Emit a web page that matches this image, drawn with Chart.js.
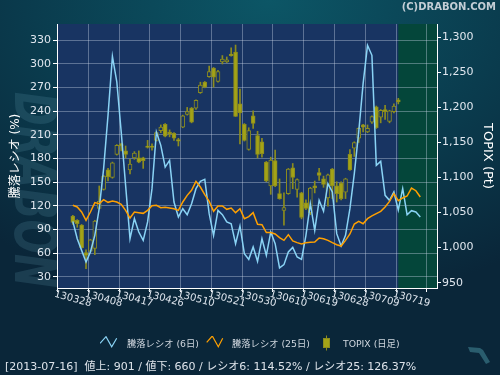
<!DOCTYPE html>
<html>
<head>
<meta charset="utf-8">
<script src="https://cdn.jsdelivr.net/npm/chart.js@4.4.1/dist/chart.umd.min.js"></script>
<style>
  html, body { margin: 0; padding: 0; }
  #wrap {
    position: relative; width: 500px; height: 375px; overflow: hidden;
    background: radial-gradient(ellipse 430px 310px at 270px 0px, #0c5666 0%, #0a3c4e 55%, #0a2639 100%);
    font-family: "DejaVu Sans", "Noto Sans CJK JP", sans-serif;
  }
  #mark {
    position: absolute; left: 35px; top: 190px; white-space: nowrap;
    font: italic bold 58px/1 "DejaVu Sans", sans-serif; color: rgba(95, 155, 175, 0.2);
    transform: translate(-50%, -50%) rotate(90deg) scaleX(0.7);
  }
  canvas { position: absolute; left: 0; top: 0; }
  .txt { position: absolute; white-space: pre; }
  #copy { right: 4px; top: 1px; font-weight: bold; font-size: 10px; line-height: 12px; color: #c3ced6; }
  .lt { top: 337px; font-size: 9.3px; line-height: 13px; color: #cfd6de; }
  .ic { position: absolute; }
  #status { left: 5px; top: 359px; font-size: 11px; line-height: 15px; color: #dde3ea; }
</style>
</head>
<body>
<div id="wrap">
  <div id="mark">DRABON</div>
  <canvas id="chart" width="500" height="375"></canvas>
  <div id="copy" class="txt">(C)DRABON.COM</div>

  <svg class="ic" style="left:100px;top:336px" width="18" height="12">
    <polyline points="0,7.3 6,0.7 11.7,10.7 16.7,2.3" fill="none" stroke="#8ad3f5" stroke-width="1.2"/>
  </svg>
  <div class="txt lt" style="left:127px">騰落レシオ (6日)</div>
  <svg class="ic" style="left:206px;top:336px" width="18" height="12">
    <polyline points="0.7,6.3 6.3,0 12.3,10.7 16.7,2.3" fill="none" stroke="#ffa000" stroke-width="1.2"/>
  </svg>
  <div class="txt lt" style="left:232px">騰落レシオ (25日)</div>
  <svg class="ic" style="left:322px;top:335px" width="9" height="16">
    <line x1="4.5" y1="0.5" x2="4.5" y2="15.5" stroke="#8c8c1e"/>
    <rect x="1.5" y="3.5" width="6" height="9" fill="#a3a317" stroke="#8c8c1e"/>
  </svg>
  <div class="txt lt" style="left:343px">TOPIX (日足)</div>

  <div id="status" class="txt">[2013-07-16]  値上: 901 / 値下: 660 / レシオ6: 114.52% / レシオ25: 126.37%</div>

  <svg class="ic" style="left:466px;top:345px" width="26" height="20">
    <polygon points="2,2 14,3 17,5 24,17 20,19 13,8 4,7" fill="#2a5d6e"/>
  </svg>
</div>

<script>
  // x = trading day index from 2013-03-28; ticks every 7 trading days
  const xTickLabels = ["130328", "130408", "130417", "130426", "130510", "130521",
    "130530", "130610", "130619", "130628", "130709", "130719"];
  const xTickStep = 7;
  const ratioTicks = [30, 60, 90, 120, 150, 180, 210, 240, 270, 300, 330];
  const topixTicks = [950, 1000, 1050, 1100, 1150, 1200, 1250, 1300];

  // TOPIX daily candles (Pt)
  const topixOpen = [1045, 1039, 1032, 993, 995, 999, 1056, 1083, 1111, 1100,
    1133, 1148, 1138, 1111, 1128, 1128, 1128, 1145, 1145, 1153,
    1167, 1176, 1165, 1163, 1154, 1172, 1190, 1199, 1199, 1221,
    1236, 1244, 1256, 1237, 1265, 1265, 1276, 1279, 1205, 1176,
    1140, 1188, 1160, 1151, 1122, 1088, 1124, 1077, 1053, 1077,
    1114, 1083, 1078, 1064, 1050, 1088, 1107, 1098, 1071, 1112,
    1088, 1092, 1079, 1133, 1142, 1156, 1175, 1165, 1179, 1201,
    1186, 1197, 1180, 1194, 1211];
  const topixHigh = [1046, 1040, 1033, 997, 1012, 1039, 1088, 1103, 1113, 1122,
    1147, 1149, 1145, 1126, 1137, 1138, 1129, 1153, 1148, 1165,
    1175, 1177, 1168, 1164, 1156, 1189, 1200, 1200, 1211, 1236,
    1237, 1259, 1257, 1253, 1274, 1272, 1285, 1289, 1226, 1177,
    1171, 1195, 1166, 1156, 1123, 1129, 1139, 1098, 1078, 1113,
    1120, 1098, 1079, 1068, 1086, 1095, 1113, 1102, 1105, 1113,
    1094, 1094, 1099, 1140, 1151, 1171, 1176, 1175, 1188, 1202,
    1197, 1203, 1196, 1205, 1213];
  const topixLow = [1033, 1029, 999, 970, 994, 990, 1055, 1082, 1095, 1099,
    1132, 1138, 1128, 1105, 1126, 1121, 1113, 1142, 1139, 1152,
    1164, 1158, 1158, 1153, 1145, 1171, 1189, 1178, 1197, 1220,
    1228, 1243, 1229, 1236, 1262, 1264, 1273, 1187, 1148, 1152,
    1139, 1170, 1128, 1129, 1094, 1076, 1087, 1069, 1032, 1076,
    1084, 1072, 1041, 1054, 1047, 1078, 1096, 1086, 1059, 1070,
    1065, 1068, 1070, 1110, 1130, 1150, 1165, 1164, 1177, 1170,
    1178, 1183, 1178, 1192, 1205];
  const topixClose = [1036, 1034, 1000, 989, 1011, 1038, 1066, 1102, 1101, 1121,
    1146, 1145, 1133, 1119, 1135, 1122, 1124, 1143, 1143, 1164,
    1172, 1159, 1162, 1156, 1152, 1188, 1194, 1179, 1210, 1232,
    1229, 1251, 1243, 1251, 1269, 1268, 1274, 1187, 1192, 1153,
    1167, 1177, 1133, 1134, 1095, 1125, 1088, 1070, 1057, 1112,
    1100, 1097, 1043, 1056, 1085, 1085, 1103, 1090, 1104, 1088,
    1077, 1070, 1098, 1111, 1150, 1170, 1172, 1170, 1187, 1171,
    1196, 1194, 1195, 1202, 1208];

  // advance/decline ratio (%)
  const ratio6 = [100.2, 78.2, 63.4, 48.6, 61.3, 82.4, 116.2, 167, 234.6, 309.3,
    276.8, 213.4, 145.8, 78.2, 103.6, 86.7, 76.1, 99.4, 141.6, 213.4,
    196.5, 169, 177.5, 124.7, 105.7, 116.2, 108.6, 122.6, 141.6, 150.9,
    153.4, 109.9, 82.4, 114.1, 108.6, 99.4, 97.2, 71.9, 94.3, 59.2,
    52, 67.7, 49.5, 78.2, 57.1, 86.7, 71.9, 41.1, 45.3, 61.3,
    67.2, 55, 52, 82.4, 122.6, 88.8, 126.8, 112.9, 147.9, 137.4,
    84.6, 68.9, 82.4, 116.2, 160.6, 213.4, 274.7, 323.3, 310.6, 171.2,
    176.2, 133.1, 126.8, 137.4, 114.5, 141.6, 108.6, 113.7, 112, 105.7];
  const ratio25 = [120.5, 118.4, 112, 101.5, 112, 123.9, 122.6, 127.7, 124.3, 126,
    124.7, 121.7, 114.1, 104.4, 112, 111.2, 110.3, 114.1, 120, 120.5,
    117.5, 117.9, 117.1, 116.2, 114.1, 124.7, 133.1, 139.5, 150.9, 143.7,
    134, 125.5, 112.9, 119.6, 119.6, 115.4, 117.1, 111.2, 116.2, 103.6,
    106.1, 111.2, 96.4, 96, 85.9, 85.9, 84.2, 79.5, 76.1, 83.3,
    75.3, 73.2, 71.5, 73.2, 73.6, 74, 79.1, 78.2, 76.1, 73.2,
    70.6, 68.9, 76.1, 84.2, 96.8, 100.2, 97.2, 103.6, 107, 110,
    112.9, 118.4, 125.5, 135.3, 126.4, 129.8, 132.3, 142.4, 139, 131];

  const FONT = '"DejaVu Sans", "Noto Sans CJK JP", sans-serif';
  const PLOT_BG = "#183462";
  const TODAY_BG = "#04463a";
  const GRID = "rgba(205, 215, 235, 0.38)";
  const LABEL = "#dfe6ee";
  const OLIVE = "#a3a317";
  const OLIVE_EDGE = "#8c8c1e";

  const xy = (arr) => arr.map((v, i) => ({ x: i, y: v }));
  const fmt = (v) => v.toLocaleString("en-US");

  /* plot background, green "latest" zone, slanted date labels */
  const backdrop = {
    id: "backdrop",
    beforeDraw(chart) {
      const { ctx, chartArea: a, scales } = chart;
      ctx.save();
      ctx.fillStyle = PLOT_BG;
      ctx.fillRect(a.left, a.top, a.right - a.left, a.bottom - a.top);
      const gx = scales.x.getPixelForValue(topixClose.length - 1);
      ctx.fillStyle = TODAY_BG;
      ctx.fillRect(gx, a.top, a.right - gx, a.bottom - a.top);
      ctx.restore();
    },
    afterDraw(chart) {
      const { ctx, chartArea: a, scales: { x } } = chart;
      ctx.save();
      ctx.font = "10px " + FONT;
      ctx.fillStyle = LABEL;
      ctx.textAlign = "center";
      ctx.textBaseline = "middle";
      x.ticks.forEach((t, k) => {
        ctx.save();
        ctx.translate(x.getPixelForValue(t.value), a.bottom + 11);
        ctx.rotate(15 * Math.PI / 180);
        ctx.fillText(xTickLabels[k] || "", 0, 0);
        ctx.restore();
      });
      ctx.restore();
    },
  };

  new Chart(document.getElementById("chart"), {
    type: "bar",
    data: {
      datasets: [
        {
          type: "line", label: "騰落レシオ (25日)", data: xy(ratio25), yAxisID: "y",
          borderColor: "#ffa000", borderWidth: 1.5, pointRadius: 0, tension: 0, order: 0,
        },
        {
          type: "line", label: "騰落レシオ (6日)", data: xy(ratio6), yAxisID: "y",
          borderColor: "#8ad3f5", borderWidth: 1.5, pointRadius: 0, tension: 0, order: 1,
        },
        {
          label: "TOPIX (日足)", yAxisID: "y2", order: 2, grouped: false, clip: false,
          data: topixOpen.map((o, i) => ({ x: i, y: [o, topixClose[i]] })),
          barThickness: 4, borderWidth: 1, borderSkipped: false, borderColor: OLIVE_EDGE,
          backgroundColor: topixOpen.map((o, i) => (topixClose[i] > o ? PLOT_BG : OLIVE)),
        },
        {
          label: "wick", yAxisID: "y2", order: 3, grouped: false, clip: false,
          data: topixLow.map((l, i) => ({ x: i, y: [l, topixHigh[i]] })),
          barThickness: 1, borderWidth: 0, backgroundColor: OLIVE_EDGE,
        },
      ],
    },
    options: {
      responsive: false,
      animation: false,
      devicePixelRatio: 1,
      layout: { padding: { top: 24, left: 0, right: 0, bottom: 0 } },
      plugins: { legend: { display: false }, tooltip: { enabled: false } },
      scales: {
        x: {
          type: "linear", min: 0, max: 79.2,
          afterBuildTicks: (s) => { s.ticks = xTickLabels.map((_, k) => ({ value: k * xTickStep })); },
          afterFit: (s) => { s.height = 87; },
          grid: { color: GRID, tickColor: "#ffffff", tickLength: 4 },
          border: { color: "#ffffff" },
          ticks: { display: false },
        },
        y: {
          position: "left", min: 15.7, max: 350.3,
          afterBuildTicks: (s) => { s.ticks = ratioTicks.map((v) => ({ value: v })); },
          afterFit: (s) => { s.width = 57; },
          grid: { color: GRID, tickColor: "#ffffff", tickLength: 4 },
          border: { color: "#ffffff" },
          ticks: { color: LABEL, padding: 2, font: { family: FONT, size: 11 } },
          title: {
            display: true, text: "騰落レシオ (%)", color: "#ffffff",
            font: { family: FONT, size: 12 }, padding: { top: 9, bottom: 0 },
          },
        },
        y2: {
          position: "right", min: 942.4, max: 1319,
          afterBuildTicks: (s) => { s.ticks = topixTicks.map((v) => ({ value: v })); },
          afterFit: (s) => { s.width = 63; },
          grid: { drawOnChartArea: false, tickColor: "#ffffff", tickLength: 4 },
          border: { color: "#ffffff" },
          ticks: { color: LABEL, padding: 1, font: { family: FONT, size: 11 }, callback: fmt },
          title: {
            display: true, text: "TOPIX (Pt)", color: "#ffffff",
            font: { family: FONT, size: 13 }, padding: { top: 5, bottom: 0 },
          },
        },
      },
    },
    plugins: [backdrop],
  });
</script>
</body>
</html>
